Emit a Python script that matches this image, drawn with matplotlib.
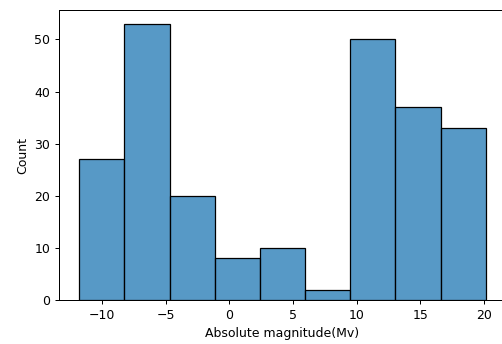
import numpy as np
import matplotlib
matplotlib.use("Agg")
import matplotlib.pyplot as plt
import seaborn as sns

# bin range and counts
mag_min = -11.8
mag_max = 20.15
counts = [27, 53, 20, 8, 10, 2, 50, 37, 33]

n_bins = len(counts)
edges = np.linspace(mag_min, mag_max, n_bins + 1)
centers = (edges[:-1] + edges[1:]) / 2

dpi = 90
fig = plt.figure(figsize=(502 / dpi, 344 / dpi), dpi=dpi)
ax = fig.add_axes([59 / 502, 44 / 344, 447 / 502, 290 / 344])
sns.histplot(x=centers, weights=counts, bins=n_bins,
             binrange=(mag_min, mag_max), ax=ax)
ax.set_xlabel("Absolute magnitude(Mv)")
ax.set_ylabel("Count")

fig.savefig("out.png", dpi=dpi)
